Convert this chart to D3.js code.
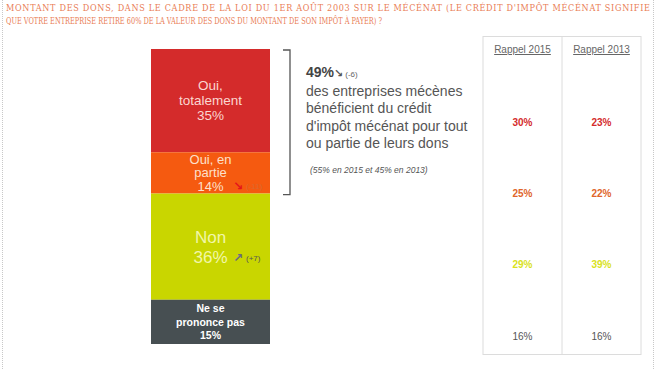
<!DOCTYPE html>
<html>
<head>
<meta charset="utf-8">
<script src="https://cdn.jsdelivr.net/npm/d3@7"></script>
<style>
  html, body { margin: 0; padding: 0; background: #fff; }
  #svg-container { width: 657px; height: 370px; }
  text { font-family: "Liberation Sans", Arial, sans-serif; }
</style>
</head>
<body>
<div id="svg-container"></div>
<script>
////////////////////////////////////////////////////////////////////
////////////////////////////  Data  ////////////////////////////////
const categories = ["Oui, totalement", "Oui, en partie", "Non", "Ne se prononce pas"];
const categoryLines = [["Oui,", "totalement"], ["Oui, en", "partie"], ["Non"], ["Ne se", "prononce pas"]];
const values = [35, 14, 36, 15];
const changes = [null, "(-11)", "(+7)", null];
const rappelYears = ["Rappel 2015", "Rappel 2013"];
const rappel2015 = [30, 25, 29, 16];
const rappel2013 = [23, 22, 39, 16];
const titleLines = [
  "MONTANT DES DONS, DANS LE CADRE DE LA LOI DU 1ER AOÛT 2003 SUR LE MÉCÉNAT (LE CRÉDIT D'IMPÔT MÉCÉNAT SIGNIFIE",
  "QUE VOTRE ENTREPRISE RETIRE 60% DE LA VALEUR DES DONS DU MONTANT DE SON IMPÔT À PAYER) ?"
];
const totalOui = 49;
const totalChange = "(-6)";
const noteLines = ["des entreprises mécènes", "bénéficient du crédit", "d'impôt mécénat pour tout", "ou partie de leurs dons"];
const noteSmall = "(55% en 2015 et 45% en 2013)";

////////////////////////////////////////////////////////////////////
////////////////////////////  Init  ////////////////////////////////
const width = 657, height = 370;
const svg = d3.select("#svg-container").append("svg")
  .attr("width", width).attr("height", height);

const segColors = ["#d42b2b", "#f55a10", "#c9d600", "#474f52"];
const labelColors = ["#fbd6d0", "#fde0cc", "#f2f7a8", "#ffffff"];
const rappelColors = ["#d42b2b", "#e0652a", "#d9e21c", "#555555"];

// scales
const y = d3.scaleLinear().domain([0, 100]).range([49, 344]);
const barX = d3.scaleBand().domain(["bar"]).range([151, 270]).padding(0);
const rowY = d3.scalePoint().domain(categories).range([122, 336]);
const colX = d3.scaleBand().domain(rappelYears).range([483, 641]);

// stacked data
let cum = 0;
const stacked = values.map((v, i) => {
  const d = { cat: categories[i], value: v, y0: cum, y1: cum + v, i: i };
  cum += v;
  return d;
});

// border dots
[2.5, 653.5].forEach(xx => {
  svg.append("line")
    .attr("x1", xx).attr("x2", xx).attr("y1", 0).attr("y2", height)
    .attr("stroke", "#c8c8c8").attr("stroke-dasharray", "1,1");
});

// title (first line justified, last line natural)
svg.selectAll(".title").data(titleLines).enter().append("text")
  .attr("x", 6)
  .attr("y", (d, i) => 11 + i * 13)
  .attr("textLength", (d, i) => i === 0 ? 644 : 376)
  .attr("lengthAdjust", (d, i) => i === 0 ? "spacing" : "spacingAndGlyphs")
  .style("font-family", "'DejaVu Serif Condensed', 'DejaVu Serif', serif")
  .style("font-size", "9px")
  .attr("fill", "#e97c55")
  .text(d => d);

////////////////////////////////////////////////////////////////////
////////////////////////////  Bar  /////////////////////////////////
svg.selectAll(".seg").data(stacked).enter().append("rect")
  .attr("x", barX("bar"))
  .attr("width", barX.bandwidth())
  .attr("y", d => y(d.y0))
  .attr("height", d => y(d.y1) - y(d.y0))
  .attr("fill", d => segColors[d.i]);

// segment labels
const fontSizes = [13.5, 13, 17, 10.5];
const lineH = [15, 13.5, 20, 13.5];
stacked.forEach(d => {
  const lines = categoryLines[d.i].concat([d.value + "%"]);
  const cy = (y(d.y0) + y(d.y1)) / 2;
  const cx = barX("bar") + barX.bandwidth() / 2;
  const startY = cy - (lines.length - 1) * lineH[d.i] / 2;
  svg.append("text")
    .attr("text-anchor", "middle")
    .attr("fill", labelColors[d.i])
    .style("font-size", fontSizes[d.i] + "px")
    .style("font-weight", d.i === 3 ? "bold" : "normal")
    .selectAll("tspan").data(lines).enter().append("tspan")
    .attr("x", cx)
    .attr("y", (l, j) => startY + j * lineH[d.i])
    .attr("dy", "0.35em")
    .text(l => l);
});

// change markers
const arrowPos = { 1: { x: 238, y: 186, arrow: "↘", color: "#e5141b", tcolor: "#d9692e" },
                   2: { x: 238, y: 258, arrow: "↗", color: "#6a6a82", tcolor: "#555555" } };
changes.forEach((c, i) => {
  if (!c) return;
  const p = arrowPos[i];
  svg.append("text").attr("x", p.x).attr("y", p.y).attr("dy", "0.35em")
    .attr("text-anchor", "middle")
    .style("font-family", "'DejaVu Sans', sans-serif")
    .style("font-size", "12px").style("font-weight", "bold")
    .attr("fill", p.color).text(p.arrow);
  svg.append("text").attr("x", p.x + 8).attr("y", p.y).attr("dy", "0.35em")
    .style("font-size", "8px")
    .attr("fill", p.tcolor).text(c);
});

////////////////////////////////////////////////////////////////////
////////////////////////////  Bracket + note  //////////////////////
const bTop = y(0) + 1, bBot = y(values[0] + values[1]) + 1;
svg.append("path")
  .attr("d", `M283,${bTop} H290 V${bBot} H283`)
  .attr("fill", "none").attr("stroke", "#555").attr("stroke-width", 1.3);

const note = svg.append("text").attr("x", 306).attr("y", 77)
  .attr("fill", "#444");
note.append("tspan").style("font-size", "14px").style("font-weight", "bold").text(totalOui + "%");
note.append("tspan").style("font-family", "'DejaVu Sans', sans-serif")
  .style("font-size", "11px").style("font-weight", "bold").attr("fill", "#555").text("↘");
note.append("tspan").attr("dx", 2).style("font-size", "8px").attr("fill", "#666").text(totalChange);

svg.selectAll(".note").data(noteLines).enter().append("text")
  .attr("x", 306)
  .attr("y", (d, i) => 96 + i * 17.3)
  .style("font-size", "14px")
  .attr("fill", "#555")
  .text(d => d);

svg.append("text").attr("x", 310).attr("y", 173)
  .style("font-size", "8.5px").style("font-style", "italic")
  .attr("fill", "#555").text(noteSmall);

////////////////////////////////////////////////////////////////////
////////////////////////////  Rappel table  ////////////////////////
svg.append("rect")
  .attr("x", colX.range()[0]).attr("y", 36.5)
  .attr("width", colX.range()[1] - colX.range()[0]).attr("height", 318)
  .attr("fill", "none").attr("stroke", "#dcdcdc");
svg.append("line")
  .attr("x1", colX(rappelYears[1])).attr("x2", colX(rappelYears[1]))
  .attr("y1", 36.5).attr("y2", 354.5).attr("stroke", "#dcdcdc");

svg.selectAll(".head").data(rappelYears).enter().append("text")
  .attr("x", d => colX(d) + colX.bandwidth() / 2)
  .attr("y", 53)
  .attr("text-anchor", "middle")
  .style("font-size", "10px")
  .style("text-decoration", "underline")
  .attr("fill", "#666")
  .text(d => d);

[rappel2015, rappel2013].forEach((vals, k) => {
  svg.selectAll(".val" + k).data(vals).enter().append("text")
    .attr("x", colX(rappelYears[k]) + colX.bandwidth() / 2)
    .attr("y", (d, i) => rowY(categories[i]))
    .attr("dy", "0.35em")
    .attr("text-anchor", "middle")
    .style("font-size", "10px")
    .style("font-weight", (d, i) => i === 3 ? "normal" : "bold")
    .attr("fill", (d, i) => rappelColors[i])
    .text(d => d + "%");
});
</script>
</body>
</html>
